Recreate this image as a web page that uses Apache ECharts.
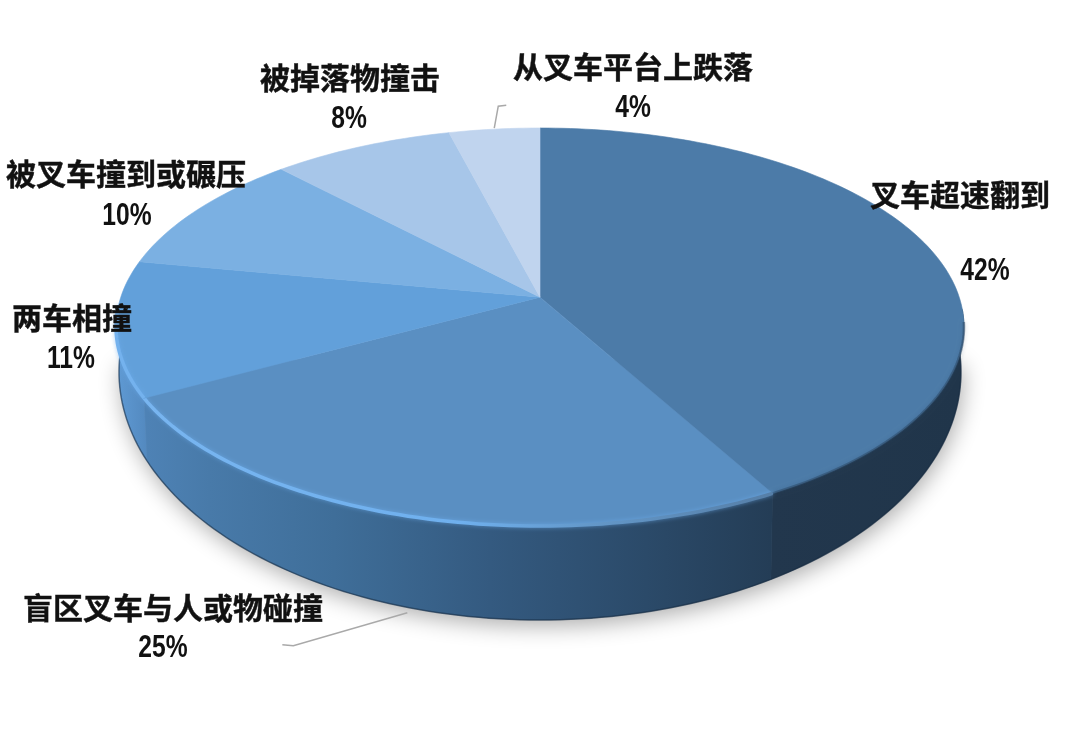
<!DOCTYPE html>
<html><head><meta charset="utf-8">
<style>html,body{margin:0;padding:0;background:#fff}#c{width:1080px;height:742px}</style>
<script src="https://cdn.jsdelivr.net/npm/echarts@6/dist/echarts.min.js"></script>
</head><body><div id="c"></div>
<script>
var categories = ['叉车超速翻到','盲区叉车与人或物碰撞','两车相撞','被叉车撞到或碾压','被掉落物撞击','从叉车平台上跌落'];
var shares = [42,25,11,10,8,4];
var topColors = ['#4c7ba8','#5a8fc2','#62a0da','#7bb0e2','#a7c6e9','#c0d4ee'];
var nameLabelPos = [[960,195],[173,608],[72,318],[126,174],[350,78],[633,67]];
var pctLabelPos = [[985,271],[163,648],[71,359],[127,216],[349,119],[633,108]];

var TOP = {cx:540, cy:327, rx:424, ry:199};
var LOW = {cx:540, cy:372, rx:421, ry:248};
var TILT = -0.15;
var total = shares.reduce(function(a,b){return a+b;},0);

function unit(share){
  var t = share/total*2*Math.PI, x = Math.sin(t), y = -Math.cos(t), d = 1+TILT*y;
  return [x*Math.sqrt(1-TILT*TILT)/d, (y+TILT)/d];
}
function place(u,e){ return [e.cx+e.rx*u[0], e.cy+e.ry*u[1]]; }
function startOf(i){ var s=0; for(var k=0;k<i;k++) s+=shares[k]; return s; }
function sample(i){
  var a=startOf(i), b=a+shares[i], n=Math.max(8,Math.round(shares[i]*3)), out=[];
  for(var k=0;k<=n;k++) out.push(unit(a+(b-a)*k/n));
  return out;
}
function hGrad(x0,x1,stops){
  return {type:'linear',x:x0,y:0,x2:x1,y2:0,global:true,
    colorStops:stops.map(function(s){return {offset:s[0],color:s[1]};})};
}
var wallFills = [
  hGrad(771,960,[[0,'#22374d'],[1,'#20354a']]),
  hGrad(147,771,[[0,'#4e82b5'],[0.1,'#487aa9'],[0.3,'#3f6e99'],[0.55,'#345a80'],[0.8,'#2b4a69'],[1,'#243d56']]),
  hGrad(117,147,[[0,'#5f9ad4'],[1,'#5389bf']])
];
var rimStrokes = [
  'rgba(42,70,98,0.5)',
  hGrad(147,771,[[0,'#78b5f0'],[0.5,'#6fb0ee'],[0.72,'#6397c8'],[1,'#567fa8']]),
  '#74b2ee'
];
var rimFloor = [-0.03,-0.12,-0.12];

var wallSeries = {
  type:'custom', coordinateSystem:'none', silent:true, z:1,
  data: shares,
  renderItem:function(p,api){
    var i=p.dataIndex, kids=[];
    if(i===0){
      var ring=[]; for(var k=0;k<=80;k++){ var a=-0.05+k/80*(Math.PI+0.1); ring.push(place([Math.cos(a),Math.sin(a)],LOW)); }
      kids.push({type:'polygon',shape:{points:ring},style:{fill:'#6d8094',shadowBlur:22,shadowColor:'rgba(0,0,0,0.32)',shadowOffsetY:6,shadowOffsetX:2}});
    }
    var pts=sample(i).filter(function(u){return u[1]>=-0.1;});
    if(pts.length>1){
      var up=pts.map(function(u){return place(u,TOP);});
      var lowPts=pts.map(function(u){return place(u,LOW);});
      kids.push({type:'polygon',shape:{points:up.concat(lowPts.slice().reverse())},style:{fill:wallFills[i]||'#333',stroke:wallFills[i]||'#333',lineWidth:0.5}});
      kids.push({type:'polyline',shape:{points:lowPts},style:{fill:null,stroke:'rgba(20,40,62,0.55)',lineWidth:1.5}});
    }
    return {type:'group',children:kids};
  }
};
var topSeries = {
  type:'custom', coordinateSystem:'none', silent:true, z:2,
  data: shares,
  renderItem:function(p,api){
    var i=p.dataIndex;
    var rim=sample(i).map(function(u){return place(u,TOP);});
    var apex=[TOP.cx,TOP.cy+TOP.ry*TILT];
    var kids=[{type:'polygon',shape:{points:[apex].concat(rim)},style:{fill:topColors[i],stroke:topColors[i],lineWidth:0.6}}];
    if(rimStrokes[i]){
      var pts=sample(i).filter(function(u){return u[1]>=rimFloor[i];}).map(function(u){return place(u,TOP);});
      kids.push({type:'polyline',shape:{points:pts},style:{fill:null,stroke:rimStrokes[i],lineWidth:i===0?2.5:3.5,lineCap:'butt',shadowBlur:4,shadowColor:i===0?'rgba(42,70,98,0.4)':'rgba(110,175,240,0.6)'}});
    }
    return {type:'group',children:kids};
  }
};
var leaderOffsets = {1:[[3,6],[-111,39],[-122,38]], 5:[[0,-1],[4,-23],[12,-24]]};
var labelSeries = {
  type:'custom', coordinateSystem:'none', silent:true, z:3,
  data: shares,
  renderItem:function(p,api){
    var i=p.dataIndex, kids=[];
    if(leaderOffsets[i]){
      var mid=unit(startOf(i)+shares[i]/2), anc=place(mid,i===1?LOW:TOP);
      kids.push({type:'polyline',shape:{points:leaderOffsets[i].map(function(o){return [anc[0]+o[0],anc[1]+o[1]];})},
        style:{fill:null,stroke:'#a9a9a9',lineWidth:1.5}});
    }
    kids.push({type:'text',style:{text:categories[i],x:nameLabelPos[i][0],y:nameLabelPos[i][1],align:'center',verticalAlign:'middle',
      font:'bold 30px "Noto Sans CJK SC"',fill:'#111',stroke:'#111',lineWidth:0.4}});
    kids.push({type:'text',x:pctLabelPos[i][0],y:pctLabelPos[i][1],scaleX:0.77,scaleY:1,
      style:{text:api.value(0)+'%',x:0,y:0,align:'center',verticalAlign:'middle',
      font:'bold 32px "Liberation Sans"',fill:'#111'}});
    return {type:'group',children:kids};
  }
};
var chart = echarts.init(document.getElementById('c'),null,{renderer:'canvas'});
chart.setOption({backgroundColor:'#fff',animation:false,series:[wallSeries,topSeries,labelSeries]});
</script></body></html>
